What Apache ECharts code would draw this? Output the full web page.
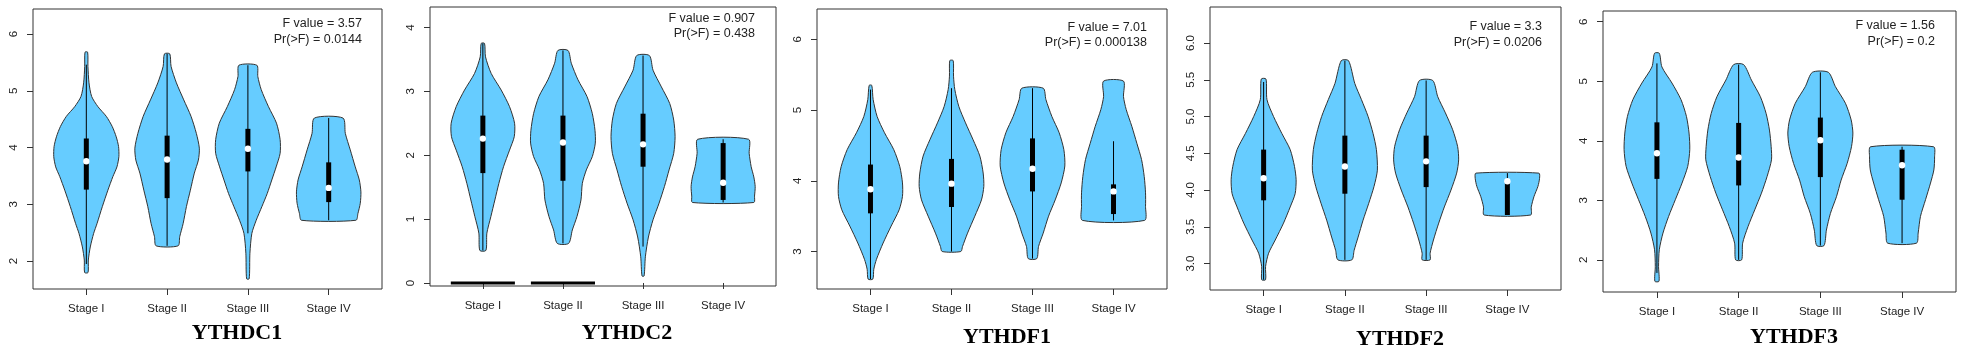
<!DOCTYPE html>
<html>
<head>
<meta charset="utf-8">
<script src="https://cdn.jsdelivr.net/npm/echarts@6/dist/echarts.min.js"></script>
<style>
  html, body { margin: 0; padding: 0; background: #fff; }
  #chart { width: 1964px; height: 355px; }
</style>
</head>
<body>
<div id="chart"></div>
<script>
// categories and labels
const stages = ['Stage I', 'Stage II', 'Stage III', 'Stage IV'];
const genes = ['YTHDC1', 'YTHDC2', 'YTHDF1', 'YTHDF2', 'YTHDF3'];
const fValues = ['3.57', '0.907', '7.01', '3.3', '1.56'];
const pValues = ['0.0144', '0.438', '0.000138', '0.0206', '0.2'];

// y ranges + ticks of every panel
const yLimits = [[1.51, 6.44], [-0.047, 4.32], [2.47, 6.43], [2.64, 6.49], [1.46, 6.18]];
const yTicks = [[2, 3, 4, 5, 6], [0, 1, 2, 3, 4], [3, 4, 5, 6], [3, 3.5, 4, 4.5, 5, 5.5, 6], [2, 3, 4, 5, 6]];

// box stats per gene, one value per stage
const whiskerLow = [[1.95, 2.27, 2.49, 2.72], [0.51, 0.62, 0.57, 1.26], [2.61, 3.0, 2.9, 3.44], [2.78, 3.05, 3.05, 3.66], [1.78, 2.0, 2.24, 2.28]];
const whiskerHigh = [[5.46, 5.65, 5.45, 4.52], [3.75, 3.64, 3.56, 2.25], [5.29, 5.31, 5.31, 4.56], [5.47, 5.76, 5.49, 4.23], [5.3, 5.28, 5.15, 3.9]];
const q1 = [[3.26, 3.11, 3.58, 3.04], [1.72, 1.6, 1.82, 1.3], [3.54, 3.63, 3.85, 3.53], [3.86, 3.95, 4.04, 3.66], [3.36, 3.25, 3.39, 3.01]];
const medians = [[3.76, 3.79, 3.98, 3.29], [2.26, 2.2, 2.17, 1.57], [3.88, 3.96, 4.17, 3.85], [4.16, 4.32, 4.39, 4.12], [3.79, 3.72, 4.01, 3.59]];
const q3 = [[4.16, 4.21, 4.33, 3.74], [2.62, 2.62, 2.65, 2.19], [4.23, 4.31, 4.6, 3.95], [4.55, 4.74, 4.74, 4.1], [4.31, 4.3, 4.39, 3.85]];

// zero rows under YTHDC2 (Stage I, Stage II)
const ythdc2Zeros = [[1, 0], [2, 0]];

// violin outlines: [value, half width]
const ythdc1Violins = [
  [[5.68, 0.016], [5.43, 0.02], [5.14, 0.033], [4.9, 0.066], [4.72, 0.144], [4.55, 0.247], [4.37, 0.321], [4.19, 0.37], [4.02, 0.399], [3.84, 0.403], [3.66, 0.379], [3.49, 0.329], [3.25, 0.267], [2.96, 0.198], [2.66, 0.132], [2.49, 0.091], [2.25, 0.049], [2.02, 0.025], [1.8, 0.021]],
  [[5.65, 0.033], [5.43, 0.049], [5.14, 0.115], [4.84, 0.206], [4.55, 0.296], [4.25, 0.362], [3.99, 0.399], [3.78, 0.387], [3.55, 0.337], [3.25, 0.288], [2.96, 0.239], [2.66, 0.198], [2.43, 0.156], [2.27, 0.136]],
  [[5.45, 0.111], [5.25, 0.123], [5.02, 0.165], [4.72, 0.255], [4.43, 0.354], [4.14, 0.399], [3.9, 0.399], [3.66, 0.35], [3.43, 0.296], [3.19, 0.239], [2.96, 0.173], [2.72, 0.103], [2.49, 0.049], [2.14, 0.025], [1.69, 0.016]],
  [[4.52, 0.177], [4.25, 0.206], [3.96, 0.267], [3.66, 0.329], [3.43, 0.379], [3.22, 0.399], [3.02, 0.391], [2.84, 0.362], [2.72, 0.337]]
];
const ythdc2Violins = [
  [[3.75, 0.021], [3.54, 0.033], [3.28, 0.104], [3.02, 0.229], [2.76, 0.333], [2.5, 0.396], [2.29, 0.392], [2.08, 0.333], [1.82, 0.258], [1.56, 0.2], [1.3, 0.15], [1.04, 0.1], [0.78, 0.05], [0.51, 0.038]],
  [[3.64, 0.063], [3.44, 0.104], [3.18, 0.188], [2.92, 0.3], [2.65, 0.367], [2.39, 0.4], [2.19, 0.404], [1.98, 0.367], [1.77, 0.292], [1.56, 0.242], [1.3, 0.225], [1.04, 0.175], [0.83, 0.117], [0.62, 0.071]],
  [[3.56, 0.079], [3.33, 0.125], [3.07, 0.229], [2.81, 0.333], [2.55, 0.383], [2.29, 0.4], [2.03, 0.383], [1.77, 0.325], [1.51, 0.267], [1.25, 0.2], [0.99, 0.125], [0.72, 0.067], [0.41, 0.029], [0.11, 0.013]],
  [[2.25, 0.317], [2.03, 0.325], [1.82, 0.35], [1.66, 0.383], [1.51, 0.4], [1.36, 0.392], [1.26, 0.383]]
];
const ythdf1Violins = [
  [[5.35, 0.016], [5.15, 0.033], [4.91, 0.082], [4.68, 0.173], [4.44, 0.288], [4.2, 0.362], [3.97, 0.395], [3.78, 0.395], [3.59, 0.354], [3.36, 0.255], [3.12, 0.156], [2.89, 0.074], [2.75, 0.041], [2.61, 0.029]],
  [[5.7, 0.021], [5.48, 0.025], [5.29, 0.041], [5.05, 0.091], [4.82, 0.173], [4.58, 0.267], [4.35, 0.35], [4.11, 0.391], [3.92, 0.399], [3.73, 0.37], [3.5, 0.288], [3.26, 0.198], [3.07, 0.136], [3.0, 0.115]],
  [[5.31, 0.132], [5.15, 0.165], [4.91, 0.239], [4.68, 0.329], [4.44, 0.387], [4.21, 0.399], [3.97, 0.354], [3.73, 0.28], [3.5, 0.198], [3.26, 0.132], [3.07, 0.074], [2.9, 0.053]],
  [[5.41, 0.123], [5.19, 0.123], [5.01, 0.156], [4.77, 0.226], [4.53, 0.288], [4.3, 0.346], [4.06, 0.379], [3.83, 0.395], [3.64, 0.395], [3.44, 0.383]]
];
const ythdf2Violins = [
  [[5.51, 0.029], [5.23, 0.041], [5.0, 0.122], [4.77, 0.224], [4.55, 0.327], [4.32, 0.38], [4.14, 0.4], [3.95, 0.388], [3.77, 0.327], [3.55, 0.245], [3.32, 0.143], [3.14, 0.061], [2.96, 0.024], [2.78, 0.024]],
  [[5.76, 0.045], [5.45, 0.122], [5.23, 0.204], [5.0, 0.286], [4.77, 0.347], [4.55, 0.388], [4.27, 0.4], [4.05, 0.359], [3.82, 0.294], [3.59, 0.224], [3.36, 0.163], [3.18, 0.114], [3.05, 0.086]],
  [[5.49, 0.082], [5.27, 0.143], [5.05, 0.237], [4.82, 0.327], [4.59, 0.388], [4.41, 0.4], [4.23, 0.376], [4.0, 0.306], [3.77, 0.224], [3.55, 0.155], [3.32, 0.09], [3.14, 0.049], [3.05, 0.049]],
  [[4.23, 0.388], [4.16, 0.396], [4.05, 0.376], [3.91, 0.327], [3.77, 0.294], [3.66, 0.286]]
];
const ythdf3Violins = [
  [[5.47, 0.029], [5.24, 0.061], [4.97, 0.184], [4.69, 0.295], [4.41, 0.361], [4.13, 0.393], [3.85, 0.402], [3.57, 0.377], [3.29, 0.307], [3.01, 0.225], [2.73, 0.143], [2.45, 0.074], [2.17, 0.029], [1.89, 0.02], [1.64, 0.025]],
  [[5.28, 0.061], [5.02, 0.156], [4.74, 0.266], [4.46, 0.336], [4.18, 0.377], [3.9, 0.398], [3.68, 0.402], [3.4, 0.348], [3.12, 0.279], [2.84, 0.197], [2.56, 0.115], [2.28, 0.049], [2.0, 0.037]],
  [[5.15, 0.098], [4.91, 0.184], [4.63, 0.307], [4.35, 0.377], [4.13, 0.398], [3.9, 0.381], [3.62, 0.328], [3.34, 0.254], [3.06, 0.197], [2.78, 0.123], [2.5, 0.074], [2.24, 0.045]],
  [[3.9, 0.385], [3.73, 0.398], [3.51, 0.389], [3.29, 0.348], [3.01, 0.287], [2.73, 0.225], [2.45, 0.197], [2.28, 0.176]]
];
const violins = [ythdc1Violins, ythdc2Violins, ythdf1Violins, ythdf2Violins, ythdf3Violins];

// panel boxes in px [left, top, width, height]
const panels = [
  [33, 9, 349, 280],
  [430, 7, 346, 279],
  [817, 9, 350, 280],
  [1210, 7, 351, 283],
  [1603, 11, 353, 281]
];
const titlePos = [[237, 333], [627, 333], [1007, 337], [1400, 339], [1794, 337]];
// F-test text: right edge x, first line y, second line y
const statPos = [[362, 24, 40], [755, 19, 34], [1147, 28, 43], [1542, 27, 43], [1935, 26, 42]];

const FILL = '#66CCFF';
const INK = '#222';

const chart = echarts.init(document.getElementById('chart'));

function violinRenderer(profiles) {
  return function (params, api) {
    const pos = api.value(0);
    const prof = profiles[params.dataIndex];
    const right = prof.map(p => api.coord([pos + p[1], p[0]]));
    const left = prof.slice().reverse().map(p => api.coord([pos - p[1], p[0]]));
    return {
      type: 'polygon',
      shape: { points: right.concat(left), smooth: 0.25 },
      style: { fill: FILL, stroke: '#333', lineWidth: 1 }
    };
  };
}

function boxRenderer(params, api) {
  const pos = api.value(0);
  const lo = api.coord([pos, api.value(1)]);
  const hi = api.coord([pos, api.value(2)]);
  const b1 = api.coord([pos, api.value(3)]);
  const md = api.coord([pos, api.value(4)]);
  const b3 = api.coord([pos, api.value(5)]);
  return {
    type: 'group',
    children: [
      { type: 'line', shape: { x1: lo[0], y1: lo[1], x2: hi[0], y2: hi[1] }, style: { stroke: '#000', lineWidth: 1 } },
      { type: 'rect', shape: { x: b1[0] - 2.5, y: b3[1], width: 5, height: b1[1] - b3[1] }, style: { fill: '#000' } },
      { type: 'circle', shape: { cx: md[0], cy: md[1], r: 3.2 }, style: { fill: '#fff' } }
    ]
  };
}

function zeroRenderer(params, api) {
  const a = api.coord([api.value(0) - 0.4, api.value(1)]);
  const b = api.coord([api.value(0) + 0.4, api.value(1)]);
  return { type: 'line', shape: { x1: a[0], y1: a[1], x2: b[0], y2: b[1] }, style: { stroke: '#000', lineWidth: 3 } };
}

const grids = [], xAxes = [], yAxes = [], series = [], graphics = [];
const catPos = [1, 2, 3, 4];

genes.forEach((gene, g) => {
  const [l, t, w, h] = panels[g];
  grids.push({ left: l, top: t, width: w, height: h, show: true, borderColor: '#333', borderWidth: 1, backgroundColor: 'transparent' });
  xAxes.push({
    gridIndex: g, type: 'value', min: 0.34, max: 4.66,
    axisLine: { show: false }, splitLine: { show: false },
    axisTick: { show: true, customValues: catPos, length: 6, lineStyle: { color: '#333' } },
    axisLabel: { customValues: catPos, formatter: v => stages[Math.round(v) - 1], margin: 14, fontSize: 11.5, color: INK, fontFamily: 'Liberation Sans' }
  });
  const decimals = g === 3 ? 1 : 0;
  yAxes.push({
    gridIndex: g, type: 'value', min: yLimits[g][0], max: yLimits[g][1],
    axisLine: { show: false }, splitLine: { show: false },
    axisTick: { show: true, customValues: yTicks[g], length: 6, lineStyle: { color: '#333' } },
    axisLabel: { customValues: yTicks[g], rotate: 90, margin: 13, fontSize: 11.5, color: INK, fontFamily: 'Liberation Sans', formatter: v => v.toFixed(decimals) }
  });
  series.push({
    type: 'custom', xAxisIndex: g, yAxisIndex: g, silent: true,
    renderItem: violinRenderer(violins[g]),
    data: catPos.map(p => [p])
  });
  if (g === 1) {
    series.push({ type: 'custom', xAxisIndex: g, yAxisIndex: g, silent: true, renderItem: zeroRenderer, data: ythdc2Zeros });
  }
  series.push({
    type: 'custom', xAxisIndex: g, yAxisIndex: g, silent: true,
    renderItem: boxRenderer,
    data: catPos.map((p, k) => [p, whiskerLow[g][k], whiskerHigh[g][k], q1[g][k], medians[g][k], q3[g][k]])
  });
  const [sx, sy1, sy2] = statPos[g];
  graphics.push({
    type: 'text', x: sx, y: sy1,
    style: { text: 'F value = ' + fValues[g], align: 'right', verticalAlign: 'middle', fill: INK, fontSize: 12.5, fontFamily: 'Liberation Sans' }
  });
  graphics.push({
    type: 'text', x: sx, y: sy2,
    style: { text: 'Pr(>F) = ' + pValues[g], align: 'right', verticalAlign: 'middle', fill: INK, fontSize: 12.5, fontFamily: 'Liberation Sans' }
  });
  graphics.push({
    type: 'text', x: titlePos[g][0], y: titlePos[g][1],
    style: { text: gene, align: 'center', verticalAlign: 'middle', fill: '#000', fontSize: 22, fontWeight: 'bold', fontFamily: 'Liberation Serif' }
  });
});

chart.setOption({
  animation: false,
  backgroundColor: '#fff',
  grid: grids,
  xAxis: xAxes,
  yAxis: yAxes,
  series: series,
  graphic: graphics
});
</script>
</body>
</html>
